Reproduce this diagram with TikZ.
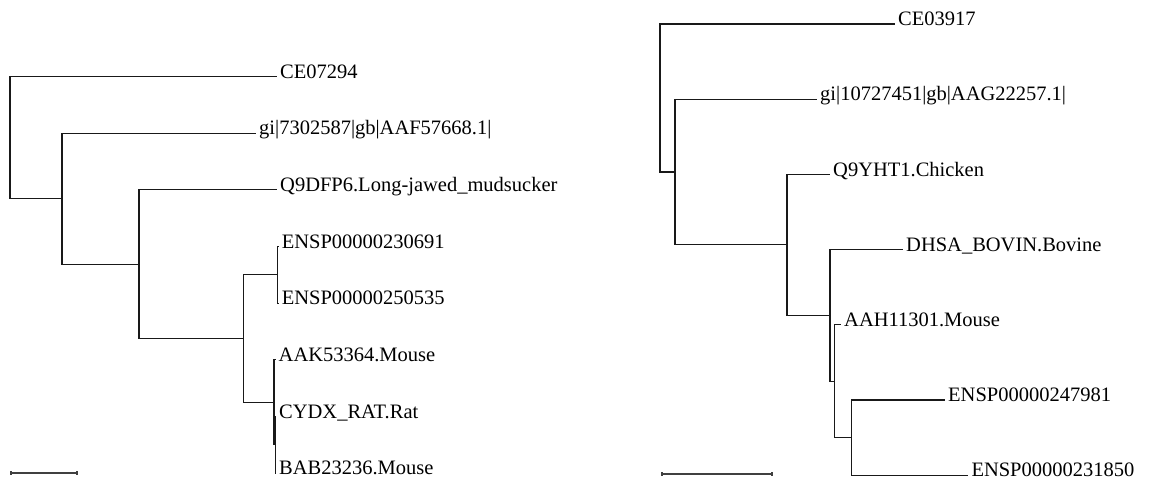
\documentclass[tikz,border=0pt]{standalone}
\usepackage{fontspec}
\setmainfont{Liberation Serif}
\begin{document}
\begin{tikzpicture}[x=1pt,y=-1pt,
  edge/.style={draw=black!90,line width=1.15pt},
  leaf/.style={anchor=base west,inner sep=0pt,xshift=3pt,yshift=-1.6pt,font=\fontsize{20.5}{24}\selectfont},
  scalebar/.style={draw=black!75,line width=1.4pt},
  tick/.style={draw=black!75,line width=1.4pt}]
\useasboundingbox (0,0) rectangle (1151,482);
% ---------------- left tree ----------------
\coordinate (La) at (62,198.7);
\coordinate (Lb) at (139,264.2);
\coordinate (Lc) at (243.3,338.5);
\coordinate (Ld) at (277.7,274.8);
\coordinate (Le) at (274.0,402.3);
\coordinate (Lf) at (275.4,444.8);
\coordinate (Lroot) at (10,137.6);
\coordinate (l1) at (277,76.5);
\coordinate (l2) at (256,133.2);
\coordinate (l3) at (277,189.8);
\coordinate (l4) at (278.6,246.5);
\coordinate (l5) at (278.6,303.2);
\coordinate (l6) at (275.5,359.8);
\coordinate (l7) at (276.0,416.5);
\coordinate (l8) at (276.0,473.2);
\node[leaf] (t1) at (l1) {CE07294};
\node[leaf] (t2) at (l2) {gi|7302587|gb|AAF57668.1|};
\node[leaf] (t3) at (l3) {Q9DFP6.Long-jawed\_mudsucker};
\node[leaf] (t4) at (l4) {ENSP00000230691};
\node[leaf] (t5) at (l5) {ENSP00000250535};
\node[leaf] (t6) at (l6) {AAK53364.Mouse};
\node[leaf] (t7) at (l7) {CYDX\_RAT.Rat};
\node[leaf] (t8) at (l8) {BAB23236.Mouse};
\draw[edge] (Lroot) |- (l1);
\draw[edge] (Lroot) |- (La);
\draw[edge] (La) |- (l2);
\draw[edge] (La) |- (Lb);
\draw[edge] (Lb) |- (l3);
\draw[edge] (Lb) |- (Lc);
\draw[edge] (Lc) |- (Ld);
\draw[edge] (Lc) |- (Le);
\draw[edge] (Ld) |- (l4);
\draw[edge] (Ld) |- (l5);
\draw[edge] (Le) |- (l6);
\draw[edge] (Le) |- (Lf);
\draw[edge] (Lf) |- (l7);
\draw[edge] (Lf) |- (l8);
% left scale bar
\coordinate (ls1) at (11,473);
\coordinate (ls2) at (77,473);
\draw[scalebar] (ls1) -- (ls2);
\draw[tick] ([yshift=-1.8pt]ls1) -- ([yshift=1.8pt]ls1);
\draw[tick] ([yshift=-1.8pt]ls2) -- ([yshift=1.8pt]ls2);
% ---------------- right tree ----------------
\coordinate (Rroot) at (660,98);
\coordinate (Ra) at (675,172);
\coordinate (Rb) at (787,244.9);
\coordinate (Rc) at (830,315.4);
\coordinate (Rd) at (834.8,381.2);
\coordinate (Re) at (851.7,437.6);
\coordinate (r1) at (895,24);
\coordinate (r2) at (817,99.2);
\coordinate (r3) at (830,174.4);
\coordinate (r4) at (903,249.6);
\coordinate (r5) at (841,324.8);
\coordinate (r6) at (945,400);
\coordinate (r7) at (968.3,475.2);
\node[leaf] (u1) at (r1) {CE03917};
\node[leaf] (u2) at (r2) {gi|10727451|gb|AAG22257.1|};
\node[leaf] (u3) at (r3) {Q9YHT1.Chicken};
\node[leaf] (u4) at (r4) {DHSA\_BOVIN.Bovine};
\node[leaf] (u5) at (r5) {AAH11301.Mouse};
\node[leaf] (u6) at (r6) {ENSP00000247981};
\node[leaf] (u7) at (r7) {ENSP00000231850};
\draw[edge] (Rroot) |- (r1);
\draw[edge] (Rroot) |- (Ra);
\draw[edge] (Ra) |- (r2);
\draw[edge] (Ra) |- (Rb);
\draw[edge] (Rb) |- (r3);
\draw[edge] (Rb) |- (Rc);
\draw[edge] (Rc) |- (r4);
\draw[edge] (Rc) |- (Rd);
\draw[edge] (Rd) |- (r5);
\draw[edge] (Rd) |- (Re);
\draw[edge] (Re) |- (r6);
\draw[edge] (Re) |- (r7);
% right scale bar
\coordinate (rs1) at (662,474);
\coordinate (rs2) at (772,474);
\draw[scalebar] (rs1) -- (rs2);
\draw[tick] ([yshift=-1.8pt]rs1) -- ([yshift=1.8pt]rs1);
\draw[tick] ([yshift=-1.8pt]rs2) -- ([yshift=1.8pt]rs2);
\end{tikzpicture}
\end{document}
